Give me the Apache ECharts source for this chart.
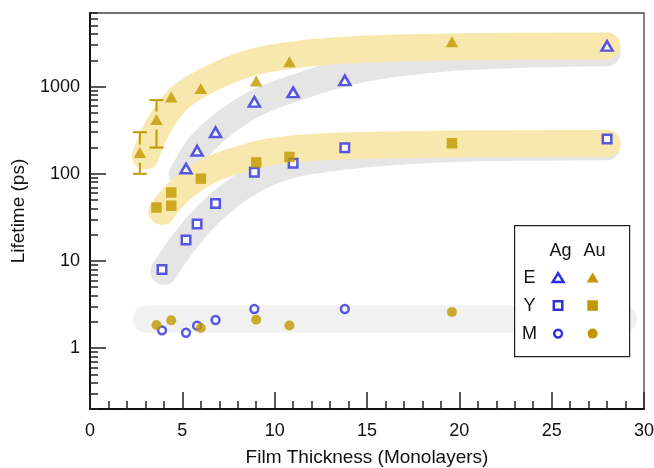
<!DOCTYPE html>
<html>
<head>
<meta charset="utf-8">
<script src="https://cdn.jsdelivr.net/npm/echarts@6/dist/echarts.min.js"></script>
<style>
html, body { margin: 0; padding: 0; background: #ffffff; }
#chart { width: 654px; height: 468px; }
</style>
</head>
<body>
<div id="chart"></div>
<script>
// Axis ticks
const xMajorTicks = [0, 5, 10, 15, 20, 25, 30];
const yMajorTicks = [1, 10, 100, 1000];
const yMinorTicks = [0.2, 0.3, 0.4, 0.5, 0.6, 0.7, 0.8, 0.9,
  2, 3, 4, 5, 6, 7, 8, 9, 20, 30, 40, 50, 60, 70, 80, 90,
  200, 300, 400, 500, 600, 700, 800, 900, 2000, 3000, 4000, 5000, 6000, 7000];

// Measured lifetimes (ps) against film thickness (monolayers)
const agE = [[5.2, 115], [5.8, 184], [6.8, 300], [8.9, 670], [11.0, 860], [13.8, 1180], [28.0, 2930]];
const auE = [[2.7, 175], [3.6, 420], [4.4, 760], [6.0, 950], [9.0, 1160], [10.8, 1930], [19.6, 3270]];
const agY = [[3.9, 8], [5.2, 17.4], [5.8, 26.5], [6.8, 45.5], [8.9, 104], [11.0, 132], [13.8, 199], [28.0, 250]];
const auY = [[3.6, 41], [4.4, 43], [4.4, 61], [6.0, 88], [9.0, 135], [10.8, 156], [19.6, 224]];
const agM = [[3.9, 1.60], [5.2, 1.50], [5.8, 1.81], [6.8, 2.10], [8.9, 2.81], [13.8, 2.81]];
const auM = [[3.6, 1.84], [4.4, 2.08], [6.0, 1.70], [9.0, 2.12], [10.8, 1.82], [19.6, 2.59]];

// Error ranges on the two thinnest Au E points
const auEErrX = [2.7, 3.6];
const auEErrLow = [100, 200];
const auEErrHigh = [300, 700];

// Guide-to-the-eye trend bands
const bandAuE = [[3.0, 160], [3.5, 290], [4.0, 450], [4.5, 620], [5.0, 790], [6.0, 1080], [7.0, 1380], [8.0, 1680],
  [9.0, 1950], [10, 2150], [12, 2450], [15, 2700], [20, 2870], [28, 2920]];
const bandAgE = [[5.0, 100], [5.5, 150], [6.0, 215], [7.0, 340], [8.0, 490], [9.0, 650], [10, 800], [11, 950],
  [12, 1120], [13, 1300], [14, 1480], [15.5, 1720], [17, 1900], [20, 2180], [24, 2370], [28, 2450]];
const bandAuY = [[3.9, 37], [4.3, 48], [4.8, 62], [5.5, 82], [6.3, 105], [7.2, 127], [8.2, 148], [9.2, 170],
  [10.5, 188], [12, 200], [14.6, 211], [20, 220], [28, 222]];
const bandAgY = [[4.0, 7.6], [4.5, 11], [5.0, 15.5], [5.5, 21], [6.0, 28], [7.0, 45], [8.0, 66], [9.0, 88],
  [10, 110], [11.4, 135], [13, 152], [14.6, 166], [17, 182], [20, 196], [24, 202], [28, 205]];
const bandM = [[3.05, 2.15], [28.9, 2.15]];

const BLUE = '#2f2fdd';
const GOLD = '#c29800';
const BAND_GOLD = '#f9e8ad';
const BAND_GRAY = '#e5e5e5';
const BAND_LIGHT = '#f1f1f1';
const FONT = 'Liberation Sans, Arial, Helvetica, sans-serif';
const INK = '#111111';

const errData = auEErrX.map((x, i) => {
  const centre = auE.find(p => p[0] === x)[1];
  return [x, centre, auEErrLow[i], auEErrHigh[i]];
});

// A thick rounded stroke through the band's centre points, placed by the axes
function band(points, color, z) {
  return {
    type: 'custom', data: [points[0]], silent: true, z: z, clip: false,
    renderItem: function (params, api) {
      const pts = points.map(p => api.coord(p));
      return {
        type: 'polyline',
        shape: { points: pts, smooth: 0.35 },
        style: { stroke: color, fill: null, lineWidth: 27, lineCap: 'round', lineJoin: 'round' }
      };
    }
  };
}

function marks(data, symbol, size, open) {
  return {
    type: 'scatter', data: data, symbol: symbol, symbolSize: size, silent: true, z: 5,
    itemStyle: open
      ? { color: '#ffffff', borderColor: BLUE, borderWidth: 2.5 }
      : { color: GOLD, borderWidth: 0 }
  };
}

const tickStyle = { color: '#222222', width: 1.5 };

const chart = echarts.init(document.getElementById('chart'), null, { renderer: 'canvas' });
chart.setOption({
  animation: false,
  backgroundColor: '#ffffff',
  grid: {
    left: 90, right: 10, top: 13, bottom: 59, outerBoundsMode: 'none', containLabel: false,
    show: true, borderColor: '#444444', borderWidth: 1.3, backgroundColor: 'transparent'
  },
  xAxis: [{
    type: 'value', min: xMajorTicks[0], max: xMajorTicks[xMajorTicks.length - 1], interval: 5, position: 'bottom',
    axisLine: { onZero: false, lineStyle: { color: INK, width: 2 } },
    axisTick: { inside: true, length: 17, lineStyle: tickStyle },
    axisLabel: { fontSize: 18, color: INK, fontFamily: FONT, margin: 13 },
    splitLine: { show: false },
    name: 'Film Thickness (Monolayers)', nameLocation: 'middle', nameGap: 39,
    nameTextStyle: { fontSize: 19, color: INK, fontFamily: FONT }
  }, {
    type: 'value', min: 0, max: 30, interval: 1, position: 'bottom',
    axisLine: { show: false, onZero: false },
    axisTick: { inside: true, length: 8, lineStyle: tickStyle },
    axisLabel: { show: false }, splitLine: { show: false }
  }],
  yAxis: [{
    type: 'log', logBase: 10, min: 0.2, max: 7000, position: 'left',
    axisLine: { show: true, onZero: false, lineStyle: { color: INK, width: 2 } },
    axisTick: { show: true, inside: true, length: 16, lineStyle: tickStyle, customValues: yMajorTicks },
    axisLabel: { customValues: yMajorTicks, formatter: v => String(Math.round(v)), fontSize: 18, color: INK, fontFamily: FONT, margin: 10 },
    splitLine: { show: false },
    name: 'Lifetime (ps)', nameLocation: 'middle', nameGap: 62,
    nameTextStyle: { fontSize: 19, color: INK, fontFamily: FONT }
  }, {
    type: 'log', logBase: 10, min: 0.2, max: 7000, position: 'left',
    axisLine: { show: false, onZero: false },
    axisTick: { show: true, inside: true, length: 8, lineStyle: tickStyle, customValues: yMinorTicks },
    axisLabel: { show: false }, splitLine: { show: false }
  }],
  series: [
    band(bandAgE, BAND_GRAY, 1),
    band(bandAgY, BAND_GRAY, 1),
    band(bandAuE, BAND_GOLD, 2),
    band(bandAuY, BAND_GOLD, 2),
    band(bandM, BAND_LIGHT, 2),
    {
      type: 'custom', data: errData, silent: true, z: 3,
      renderItem: function (params, api) {
        const x = api.value(0);
        const mid = api.coord([x, api.value(1)]);
        const lo = api.coord([x, api.value(2)]);
        const hi = api.coord([x, api.value(3)]);
        const half = 7;
        const style = { stroke: GOLD, lineWidth: 2 };
        return {
          type: 'group', children: [
            { type: 'line', shape: { x1: hi[0] - half, y1: hi[1], x2: hi[0] + half, y2: hi[1] }, style: style },
            { type: 'line', shape: { x1: hi[0], y1: hi[1], x2: mid[0], y2: mid[1] - 8 }, style: style },
            { type: 'line', shape: { x1: mid[0], y1: mid[1] + 10, x2: lo[0], y2: lo[1] }, style: style },
            { type: 'line', shape: { x1: lo[0] - half, y1: lo[1], x2: lo[0] + half, y2: lo[1] }, style: style }
          ]
        };
      }
    },
    marks(agE, 'triangle', [11, 9.5], true),
    marks(auE, 'triangle', [12.5, 11], false),
    marks(agY, 'rect', 8.5, true),
    marks(auY, 'rect', 10.5, false),
    marks(agM, 'circle', 7.8, true),
    marks(auM, 'circle', 10, false)
  ],
  graphic: [{
    type: 'group', left: 514, top: 225, silent: true, z: 100, children: [
      { type: 'rect', z: 100, shape: { x: 0, y: 0, width: 115, height: 131 }, style: { fill: '#ffffff', stroke: '#222222', lineWidth: 1.2 } },
      { type: 'text', z: 101, x: 46, y: 25, style: { text: 'Ag', font: '18px ' + FONT, fill: INK, align: 'center', verticalAlign: 'middle' } },
      { type: 'text', z: 101, x: 80, y: 25, style: { text: 'Au', font: '18px ' + FONT, fill: INK, align: 'center', verticalAlign: 'middle' } },
      { type: 'text', z: 101, x: 15, y: 52, style: { text: 'E', font: '18px ' + FONT, fill: INK, align: 'center', verticalAlign: 'middle' } },
      { type: 'text', z: 101, x: 15, y: 80, style: { text: 'Y', font: '18px ' + FONT, fill: INK, align: 'center', verticalAlign: 'middle' } },
      { type: 'text', z: 101, x: 15, y: 108, style: { text: 'M', font: '18px ' + FONT, fill: INK, align: 'center', verticalAlign: 'middle' } },
      { type: 'polygon', z: 101, shape: { points: [[38, 56.5], [43.5, 47.5], [49, 56.5]] }, style: { fill: '#ffffff', stroke: BLUE, lineWidth: 2.5 } },
      { type: 'polygon', z: 101, shape: { points: [[72, 57], [78, 47], [84, 57]] }, style: { fill: GOLD } },
      { type: 'rect', z: 101, shape: { x: 39.2, y: 75.7, width: 8.5, height: 8.5 }, style: { fill: '#ffffff', stroke: BLUE, lineWidth: 2.5 } },
      { type: 'rect', z: 101, shape: { x: 72.7, y: 74.7, width: 10.5, height: 10.5 }, style: { fill: GOLD } },
      { type: 'circle', z: 101, shape: { cx: 43.5, cy: 108, r: 3.9 }, style: { fill: '#ffffff', stroke: BLUE, lineWidth: 2.5 } },
      { type: 'circle', z: 101, shape: { cx: 78, cy: 108, r: 5 }, style: { fill: GOLD } }
    ]
  }]
});
</script>
</body>
</html>
